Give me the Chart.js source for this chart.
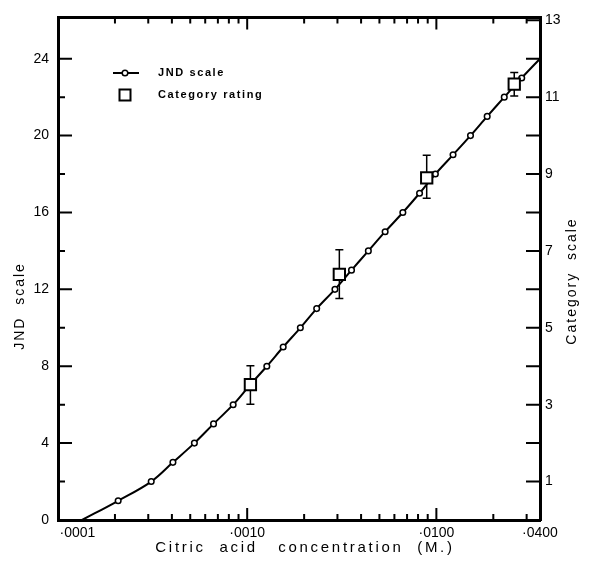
<!DOCTYPE html>
<html><head><meta charset="utf-8">
<script src="https://cdn.jsdelivr.net/npm/chart.js@4.4.1/dist/chart.umd.min.js"></script>
<style>html,body{margin:0;padding:0;background:#fff}#wrap{width:590px;height:565px;position:relative}</style>
</head><body><div id="wrap"><canvas id="c"></canvas></div>
<script>
// ---- data ----
const jndConc  = [0.000134, 0.000208, 0.000311, 0.000405, 0.000526, 0.000664, 0.000843, 0.00103, 0.00127, 0.00155, 0.00191, 0.00233, 0.00291, 0.00356, 0.00437, 0.00536, 0.00665, 0.00815, 0.00988, 0.01225, 0.01515, 0.01856, 0.02285, 0.02826, 0.0353];
const jndValue = [0, 1, 2, 3, 4, 5, 6, 7, 8, 9, 10, 11, 12, 13, 14, 15, 16, 17, 18, 19, 20, 21, 22, 23, 24];
const catConc   = [0.00104, 0.00307, 0.00889, 0.0258];
const catRating = [3.52, 6.39, 8.90, 11.34];
const catHigh   = [4.01, 7.03, 9.49, 11.64];
const catLow    = [3.01, 5.76, 8.37, 11.03];

const xTickValues = [0.0001, 0.001, 0.01, 0.0353];
const xTickLabels = ['\u2007\u2007\u2007\u2007\u2007·0001', '·0010', '·0100', '·0400'];
const xMajorMarks = [0.001, 0.01];
const xMinorMarks = [0.0002,0.0003,0.0004,0.0005,0.0006,0.0007,0.0008,0.0009,0.002,0.003,0.004,0.005,0.006,0.007,0.008,0.009,0.02,0.03];
const yLeftLabels = [0, 4, 8, 12, 16, 20, 24];
const yLeftMinor  = [2, 6, 10, 14, 18, 22];
const yRightLabels = [1, 3, 5, 7, 9, 11, 13];
const yRightMarks  = [1, 2, 3, 4, 5, 6, 7, 8, 9, 10, 11, 12, 13];

const X_MIN = 0.0001, X_MAX = 0.0353;
const FONT = '"Liberation Sans", Arial, sans-serif';

const tickMarks = {
  id: 'tickMarks',
  afterDraw(chart) {
    const ctx = chart.ctx, a = chart.chartArea;
    const x = chart.scales.x, y = chart.scales.y, y2 = chart.scales.y2;
    ctx.save();
    ctx.strokeStyle = '#000';
    ctx.lineWidth = 2;
    ctx.beginPath();
    const vx = (v, len) => { const p = x.getPixelForValue(v);
      ctx.moveTo(p, a.bottom); ctx.lineTo(p, a.bottom - len);
      ctx.moveTo(p, a.top); ctx.lineTo(p, a.top + len); };
    xMajorMarks.forEach(v => vx(v, 12));
    xMinorMarks.forEach(v => vx(v, 6));
    yLeftLabels.forEach(v => { if (v === 0) return; const p = y.getPixelForValue(v); ctx.moveTo(a.left, p); ctx.lineTo(a.left + 14, p); });
    yLeftMinor.forEach(v => { const p = y.getPixelForValue(v); ctx.moveTo(a.left, p); ctx.lineTo(a.left + 7, p); });
    yRightMarks.forEach(v => { const p = y2.getPixelForValue(v); ctx.moveTo(a.right, p); ctx.lineTo(a.right - 14, p); });
    ctx.stroke();

    // axis titles
    ctx.fillStyle = '#000';
    ctx.font = '15px ' + FONT;
    ctx.letterSpacing = '2.7px';
    ctx.textAlign = 'center';
    ctx.textBaseline = 'middle';
    ctx.fillText('Citric  acid   concentration  (M.)', 305, 548);
    ctx.font = '14px ' + FONT;
    ctx.letterSpacing = '2px';
    ctx.save(); ctx.translate(20, 306); ctx.rotate(-Math.PI / 2);
    ctx.fillText('JND  scale', 0, 0); ctx.restore();
    ctx.save(); ctx.translate(572, 281); ctx.rotate(-Math.PI / 2);
    ctx.fillText('Category  scale', 0, 0); ctx.restore();

    // legend
    ctx.font = 'bold 11px ' + FONT;
    ctx.letterSpacing = '1.6px';
    ctx.textAlign = 'left';
    ctx.fillText('JND scale', 158, 73);
    ctx.fillText('Category rating', 158, 95);
    ctx.letterSpacing = '0px';
    ctx.lineWidth = 2;
    ctx.beginPath(); ctx.moveTo(113, 73); ctx.lineTo(139, 73); ctx.stroke();
    ctx.fillStyle = '#fff'; ctx.lineWidth = 1.5;
    ctx.beginPath(); ctx.arc(125, 73, 2.8, 0, Math.PI * 2); ctx.fill(); ctx.stroke();
    ctx.lineWidth = 2;
    ctx.strokeRect(119.5, 89.5, 11, 11);
    ctx.restore();
  }
};

const errorBars = {
  id: 'errorBars',
  beforeDatasetDraw(chart, args) {
    if (args.index !== 0) return;
    const ctx = chart.ctx, x = chart.scales.x, y2 = chart.scales.y2;
    ctx.save();
    ctx.strokeStyle = '#000'; ctx.lineWidth = 1.5;
    ctx.beginPath();
    catConc.forEach((c, i) => {
      const px = x.getPixelForValue(c);
      const hi = y2.getPixelForValue(catHigh[i]), lo = y2.getPixelForValue(catLow[i]);
      ctx.moveTo(px, hi); ctx.lineTo(px, lo);
      ctx.moveTo(px - 4, hi); ctx.lineTo(px + 4, hi);
      ctx.moveTo(px - 4, lo); ctx.lineTo(px + 4, lo);
    });
    ctx.stroke();
    ctx.restore();
  }
};

const tickFont = { family: FONT, size: 14 };
new Chart(document.getElementById('c'), {
  type: 'scatter',
  data: {
    datasets: [
      {
        label: 'Category rating',
        data: catConc.map((c, i) => ({ x: c, y: catRating[i] })),
        yAxisID: 'y2',
        pointStyle: 'rect',
        pointRadius: 8,
        pointBorderWidth: 2,
        pointBackgroundColor: '#fff',
        pointBorderColor: '#000',
        showLine: false
      },
      {
        label: 'JND scale',
        data: jndConc.map((c, i) => ({ x: c, y: jndValue[i] })),
        yAxisID: 'y',
        showLine: true,
        borderColor: '#000',
        borderWidth: 2,
        tension: 0.35,
        pointRadius: ctx => (ctx.dataIndex === 0 || ctx.dataIndex === jndValue.length - 1) ? 0 : 2.8,
        pointBackgroundColor: '#fff',
        pointBorderColor: '#000',
        pointBorderWidth: 1.5
      }
    ]
  },
  options: {
    responsive: true,
    maintainAspectRatio: false,
    animation: false,
    layout: { padding: 0 },
    plugins: { legend: { display: false }, tooltip: { enabled: false } },
    scales: {
      x: {
        type: 'logarithmic', position: 'bottom', min: X_MIN, max: X_MAX,
        grid: { display: false, drawTicks: false },
        border: { display: true, width: 3, color: '#000' },
        afterBuildTicks: s => { s.ticks = xTickValues.map(v => ({ value: v })); },
        afterFit: s => { s.height = 45; },
        ticks: { font: tickFont, color: '#000', padding: 5, maxRotation: 0, autoSkip: false,
          callback: (v, i) => xTickLabels[i] }
      },
      x2: {
        type: 'logarithmic', position: 'top', min: X_MIN, max: X_MAX,
        grid: { display: false, drawTicks: false },
        border: { display: true, width: 3, color: '#000' },
        ticks: { display: false },
        afterFit: s => { s.height = 7; }
      },
      y: {
        position: 'left', min: 0, max: 26.15,
        grid: { display: false, drawTicks: false },
        border: { display: true, width: 3, color: '#000' },
        afterBuildTicks: s => { s.ticks = yLeftLabels.map(v => ({ value: v })); },
        afterFit: s => { s.width = 58; },
        ticks: { font: tickFont, color: '#000', padding: 9, autoSkip: false, callback: v => String(v) }
      },
      y2: {
        position: 'right', min: 0, max: 13.075,
        grid: { display: false, drawTicks: false },
        border: { display: true, width: 3, color: '#000' },
        afterBuildTicks: s => { s.ticks = yRightLabels.map(v => ({ value: v })); },
        afterFit: s => { s.width = 50; },
        ticks: { font: tickFont, color: '#000', padding: 5, autoSkip: false, callback: v => String(v) }
      }
    }
  },
  plugins: [tickMarks, errorBars]
});
</script>
</body></html>
